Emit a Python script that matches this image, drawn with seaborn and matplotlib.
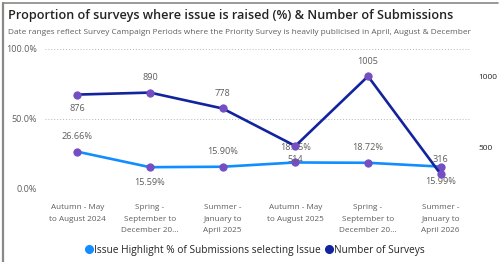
import matplotlib
matplotlib.use("Agg")
import matplotlib.pyplot as plt
import seaborn as sns
import numpy as np
import pandas as pd
from matplotlib.lines import Line2D

categories = ["Autumn - May\nto August 2024", "Spring -\nSeptember to\nDecember 20...",
              "Summer -\nJanuary to\nApril 2025", "Autumn - May\nto August 2025",
              "Spring -\nSeptember to\nDecember 20...", "Summer -\nJanuary to\nApril 2026"]
pct_values = [26.66, 15.59, 15.90, 18.95, 18.72, 15.99]
survey_counts = [876, 890, 778, 514, 1005, 316]
pct_label_pos = ["above", "below", "above", "above", "above", "below"]
count_label_pos = ["below", "above", "above", "below", "above", "above"]

sns.set_theme(style="white")
plt.rcParams['font.family'] = ['Open Sans', 'DejaVu Sans']

W, H = 500, 262
fig = plt.figure(figsize=(5, 2.62), dpi=100)
fig.patch.set_facecolor("white")

def px(x0, y0, w, h):
    return [x0 / W, 1 - (y0 + h) / H, w / W, h / H]

ax = fig.add_axes(px(41, 49, 436, 140))
ax2 = ax.twinx()

df = pd.DataFrame({"x": np.arange(len(categories)), "pct": np.array(pct_values) / 100,
                   "count": survey_counts})

light = "#118DFF"
dark = "#12239E"
marker_c = "#744EC2"
label_c = "#605E5C"

sns.lineplot(data=df, x="x", y="pct", ax=ax, color=light, linewidth=1.9,
             marker="o", markersize=5.2, markerfacecolor=marker_c, markeredgecolor=marker_c)
sns.lineplot(data=df, x="x", y="count", ax=ax2, color=dark, linewidth=1.9,
             marker="o", markersize=5.2, markerfacecolor=marker_c, markeredgecolor=marker_c)

ax.set_xlim(-0.5, len(categories) - 0.5)
ax.set_ylim(0, 1)
ax2.set_ylim(211, 1197)
ax.set_yticks([0, 0.5, 1.0])
ax.set_yticklabels(["0.0%", "50.0%", "100.0%"])
ax2.set_yticks([500, 1000])
ax2.set_yticklabels(["500", "1000"])
ax.set_xticks(df["x"])
ax.set_xticklabels(categories, fontsize=5.9, color=label_c, linespacing=1.85, va="top")
ax.set_xlabel("")
ax.set_ylabel("")
ax2.set_ylabel("")
ax.tick_params(axis="y", labelsize=6.5, labelcolor=label_c, length=0, pad=3)
ax2.tick_params(axis="y", labelsize=6.0, labelcolor="#252423", length=0, pad=1)
ax.tick_params(axis="x", length=0, pad=11)
for a in (ax, ax2):
    for s in a.spines.values():
        s.set_visible(False)
    a.set_facecolor("none")
for yv in [0, 0.5, 1.0]:
    ax.axhline(yv, xmin=0.01, xmax=0.985, color="#B8B6B4", linestyle=(0, (1, 2)), linewidth=0.7, zorder=0)

for i, (v, pos) in enumerate(zip(pct_values, pct_label_pos)):
    off = 15 if pos == "above" else -15
    ax.annotate(f"{v:.2f}%", (i, v / 100), xytext=(0, off), textcoords="offset pixels",
                ha="center", va="center", fontsize=6.6, color=label_c)
for i, (v, pos) in enumerate(zip(survey_counts, count_label_pos)):
    off = 15 if pos == "above" else -14
    ax2.annotate(f"{v}", (i, v), xytext=(0, off), textcoords="offset pixels",
                 ha="center", va="center", fontsize=6.6, color=label_c)

fig.text(8 / W, 1 - 15 / H, "Proportion of surveys where issue is raised (%) & Number of Submissions",
         fontsize=9.1, color="#252423", ha="left", va="center", fontweight="semibold")
fig.text(8 / W, 1 - 33 / H,
         "Date ranges reflect Survey Campaign Periods where the Priority Survey is heavily publicised in April, August & December",
         fontsize=5.95, color=label_c, ha="left", va="center")

handles = [Line2D([], [], marker="o", linestyle="", color=light, markersize=5.5),
           Line2D([], [], marker="o", linestyle="", color=dark, markersize=5.5)]
fig.legend(handles, ["Issue Highlight % of Submissions selecting Issue", "Number of Surveys"],
           loc="center", bbox_to_anchor=(254 / W, 1 - 250 / H), ncol=2, frameon=False,
           fontsize=7.3, labelcolor="#252423", handletextpad=0.0, columnspacing=0.3,
           handlelength=1.0, borderaxespad=0)

fig.add_artist(Line2D([3 / W, 3 / W], [0, 1 - 3 / H], color="#8A8886", linewidth=1.6))
fig.add_artist(Line2D([3 / W, 498 / W], [1 - 3 / H, 1 - 3 / H], color="#8A8886", linewidth=1.2))

fig.savefig("out.png", dpi=100)
